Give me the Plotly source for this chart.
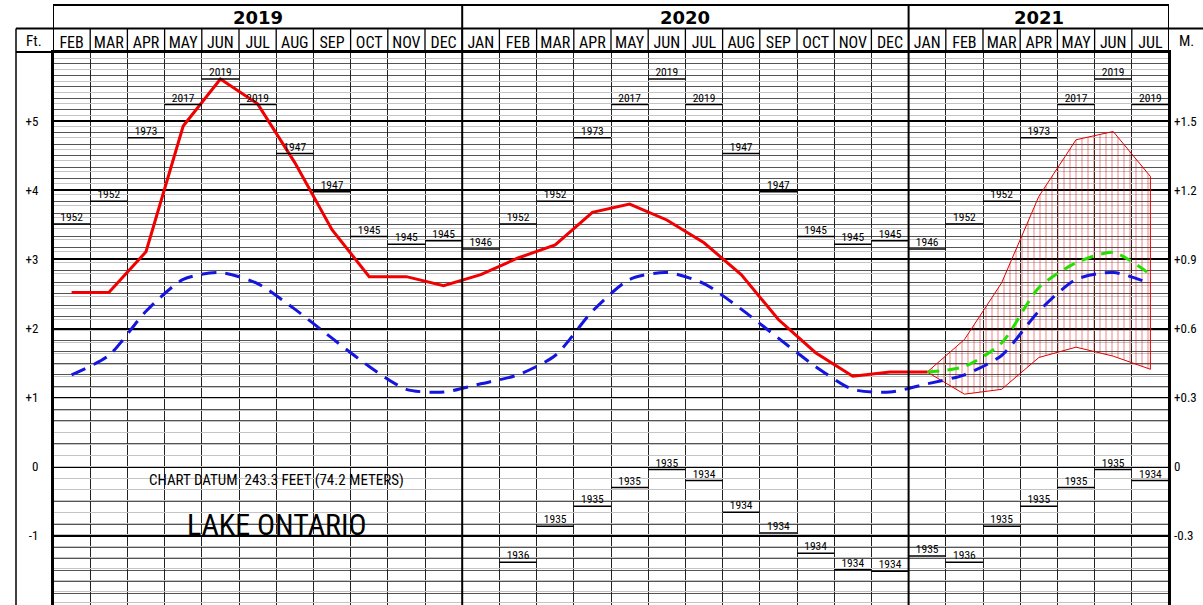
import plotly.graph_objects as go

# ---------------- data ----------------
months = ["FEB", "MAR", "APR", "MAY", "JUN", "JUL", "AUG", "SEP", "OCT", "NOV", "DEC",
          "JAN", "FEB", "MAR", "APR", "MAY", "JUN", "JUL", "AUG", "SEP", "OCT", "NOV", "DEC",
          "JAN", "FEB", "MAR", "APR", "MAY", "JUN", "JUL"]
years = ["2019", "2020", "2021"]

# recorded monthly mean level, feet above chart datum (FEB 2019 .. JAN 2021)
actual = [2.52, 2.52, 3.11, 4.93, 5.61, 5.25, 4.40, 3.43, 2.75, 2.75, 2.62,
          2.78, 3.02, 3.21, 3.68, 3.80, 3.57, 3.24, 2.78, 2.13, 1.65, 1.31, 1.37,
          1.37]

# long-term average (per column)
average = [1.33, 1.61, 2.25, 2.71, 2.81, 2.65, 2.28, 1.86, 1.45, 1.12, 1.08,
           1.20, 1.33, 1.61, 2.25, 2.71, 2.81, 2.65, 2.28, 1.86, 1.45, 1.12, 1.08,
           1.20, 1.33, 1.61, 2.25, 2.71, 2.81, 2.65]

# forecast JAN 2021 .. JUL 2021
forecast_mid = [1.37, 1.45, 1.79, 2.59, 2.95, 3.10, 2.78]
forecast_high = [1.37, 1.84, 2.66, 3.91, 4.73, 4.85, 4.20]
forecast_low = [1.37, 1.05, 1.12, 1.58, 1.73, 1.60, 1.41]

# record highs per column
high_year = ["1952", "1952", "1973", "2017", "2019", "2019", "1947", "1947", "1945", "1945", "1945",
             "1946", "1952", "1952", "1973", "2017", "2019", "2019", "1947", "1947", "1945", "1945", "1945",
             "1946", "1952", "1952", "1973", "2017", "2019", "2019"]
high_level = [3.51, 3.84, 4.76, 5.24, 5.61, 5.24, 4.53, 3.98, 3.33, 3.22, 3.27,
              3.15, 3.51, 3.84, 4.76, 5.24, 5.61, 5.24, 4.53, 3.98, 3.33, 3.22, 3.27,
              3.15, 3.51, 3.84, 4.76, 5.24, 5.61, 5.24]

# record lows per column (not drawn for the first columns)
low_year = [None] * 12 + ["1936", "1935", "1935", "1935", "1935", "1934", "1934", "1934", "1934", "1934", "1934",
                          "1935", "1936", "1935", "1935", "1935", "1935", "1934"]
low_level = [None] * 12 + [-1.38, -0.86, -0.57, -0.30, -0.04, -0.20, -0.66, -0.96, -1.25, -1.49, -1.51,
                           -1.29, -1.38, -0.86, -0.57, -0.30, -0.04, -0.20]

ft_ticks = [5, 4, 3, 2, 1, 0, -1]
ft_labels = ["+5", "+4", "+3", "+2", "+1", "0", "-1"]
m_labels = ["+1.5", "+1.2", "+0.9", "+0.6", "+0.3", "0", "-0.3"]

# ---------------- layout helpers ----------------
W, H = 1203, 605
L, R, T, B = 53, 34, 52, 0
PW, PH = W - L - R, H - T - B
NARROW = "Liberation Sans Narrow, Arial Narrow, Roboto Condensed, DejaVu Sans Condensed, Liberation Sans, sans-serif"


def py(px):  # pixel row from top -> paper y
    return 1 + (T - px) / PH


def pxx(px):  # pixel column -> paper x
    return (px - L) / PW


n = len(months)
centers = [i + 0.5 for i in range(n)]
year_starts = [0] + [i for i, m in enumerate(months) if m == "JAN"]
year_ends = year_starts[1:] + [n]
fc_start = n - len(forecast_mid)

fig = go.Figure()

# forecast range (hatched)
fx = centers[fc_start:] + centers[fc_start:][::-1]
fy = forecast_high + forecast_low[::-1]
fig.add_trace(go.Scatter(
    x=fx, y=fy, mode="lines", fill="toself",
    line=dict(color="#e00000", width=1),
    fillcolor="rgba(0,0,0,0)",
    fillpattern=dict(shape="|", fgcolor="#e00000", bgcolor="rgba(0,0,0,0)", size=6, solidity=0.16),
    hoverinfo="skip"))

# long-term average
fig.add_trace(go.Scatter(
    x=centers, y=average, mode="lines",
    line=dict(color="#1515e0", width=3, dash="15px,9px", shape="spline", smoothing=0.7),
    hoverinfo="skip"))

# forecast most probable
fig.add_trace(go.Scatter(
    x=centers[fc_start:], y=forecast_mid, mode="lines",
    line=dict(color="#22e000", width=3, dash="12px,8px", shape="spline", smoothing=0.7),
    hoverinfo="skip"))

# recorded levels
fig.add_trace(go.Scatter(
    x=centers[:len(actual)], y=actual, mode="lines", line=dict(color="#f00000", width=3),
    hoverinfo="skip"))

# record high / low lines
rx, ry = [], []
for i in range(n):
    for lv in (high_level[i], low_level[i]):
        if lv is not None:
            rx += [i, i + 1, None]
            ry += [lv, lv, None]
fig.add_trace(go.Scatter(x=rx, y=ry, mode="lines", line=dict(color="black", width=1.5), hoverinfo="skip"))

# record labels
lx, ly, lt = [], [], []
for i in range(n):
    for lv, yr in ((high_level[i], high_year[i]), (low_level[i], low_year[i])):
        if lv is not None:
            lx.append(centers[i]); ly.append(lv); lt.append(yr)
fig.add_trace(go.Scatter(x=lx, y=ly, text=lt, mode="text", textposition="top center",
                         textfont=dict(family=NARROW, size=11.5, color="black"), hoverinfo="skip",
                         yaxis="y2"))

shapes = []
# year separators (thick) through plot and header
for b in year_starts + [n]:
    shapes.append(dict(type="line", xref="x", yref="paper", x0=b, x1=b, y0=0, y1=py(5),
                       line=dict(color="black", width=2)))
# month separators in month row
for b in range(n + 1):
    shapes.append(dict(type="line", xref="x", yref="paper", x0=b, x1=b, y0=1, y1=py(28),
                       line=dict(color="black", width=1.3)))
# header horizontal lines
shapes.append(dict(type="line", xref="x", yref="paper", x0=0, x1=n, y0=py(5), y1=py(5),
                   line=dict(color="black", width=2)))
shapes.append(dict(type="line", xref="paper", yref="paper", x0=pxx(16), x1=pxx(W), y0=py(28.5), y1=py(28.5),
                   line=dict(color="black", width=2)))
shapes.append(dict(type="line", xref="paper", yref="paper", x0=pxx(16), x1=1, y0=1, y1=1,
                   line=dict(color="black", width=2)))
shapes.append(dict(type="line", xref="paper", yref="paper", x0=pxx(16), x1=pxx(16), y0=0, y1=py(28.5),
                   line=dict(color="black", width=1.5)))

annotations = []
for yr, s, e in zip(years, year_starts, year_ends):
    annotations.append(dict(x=(s + e) / 2, y=py(17), xref="x", yref="paper", text=yr, showarrow=False,
                            font=dict(family="DejaVu Sans, Liberation Sans", size=18, color="black",
                                      weight="bold"),
                            xanchor="center", yanchor="middle"))
annotations.append(dict(x=pxx(34), y=py(41), xref="paper", yref="paper", text="Ft.", showarrow=False,
                        font=dict(family=NARROW, size=15, color="black"), xanchor="center", yanchor="middle"))
annotations.append(dict(x=pxx(1186), y=py(41), xref="paper", yref="paper", text="M.", showarrow=False,
                        font=dict(family=NARROW, size=15, color="black"), xanchor="center", yanchor="middle"))
annotations.append(dict(x=6.0, y=-0.19, xref="x", yref="y", text="CHART DATUM  243.3 FEET (74.2 METERS)",
                        showarrow=False, font=dict(family=NARROW, size=15, color="black"),
                        xanchor="center", yanchor="middle"))
annotations.append(dict(x=6.0, y=-0.84, xref="x", yref="y", text="LAKE ONTARIO",
                        showarrow=False, font=dict(family=NARROW, size=30, color="black"),
                        xanchor="center", yanchor="middle"))

fig.update_layout(
    width=W, height=H, margin=dict(l=L, r=R, t=T, b=B, pad=0, autoexpand=False),
    paper_bgcolor="white", plot_bgcolor="white", showlegend=False,
    shapes=shapes, annotations=annotations,
    xaxis=dict(range=[0, n], tickvals=list(range(n + 1)), showticklabels=False, ticks="",
               showgrid=True, gridcolor="#222222", gridwidth=1, zeroline=False,
               showline=True, linecolor="black", linewidth=2, mirror=True),
    xaxis2=dict(range=[0, n], overlaying="x", side="top", anchor="y", tickvals=centers, ticktext=months,
                showgrid=False, ticks="", zeroline=False,
                tickfont=dict(family=NARROW, size=16, color="black")),
    yaxis=dict(range=[-2, 6], tickvals=ft_ticks, ticktext=ft_labels, showgrid=True, gridcolor="black",
               gridwidth=2, zeroline=False, ticks="", ticklabelstandoff=10,
               tickfont=dict(family=NARROW, size=13, color="black"),
               minor=dict(tick0=0, dtick=1 / 6, showgrid=True, gridcolor="#555555", gridwidth=1),
               showline=True, linecolor="black", linewidth=2, mirror=True),
    yaxis2=dict(range=[-2, 6], overlaying="y", side="right", tickvals=ft_ticks, ticktext=m_labels,
                showgrid=False, zeroline=False, ticks="", ticklabelstandoff=4,
                tickfont=dict(family=NARROW, size=13, color="black")),
    yaxis3=dict(range=[-2 * 0.3048, 6 * 0.3048], overlaying="y", dtick=0.05, tick0=0, showticklabels=False,
                showgrid=True, gridcolor="#c4c4c4", gridwidth=1, zeroline=False, ticks=""),
)
# hidden trace so xaxis2 / yaxis3 are drawn
fig.add_trace(go.Scatter(x=[0], y=[0], xaxis="x2", yaxis="y3", mode="markers",
                         marker=dict(opacity=0), hoverinfo="skip"))

fig.write_html("out.html", config={"displayModeBar": False},
               post_script="document.body.style.margin='0px';")
